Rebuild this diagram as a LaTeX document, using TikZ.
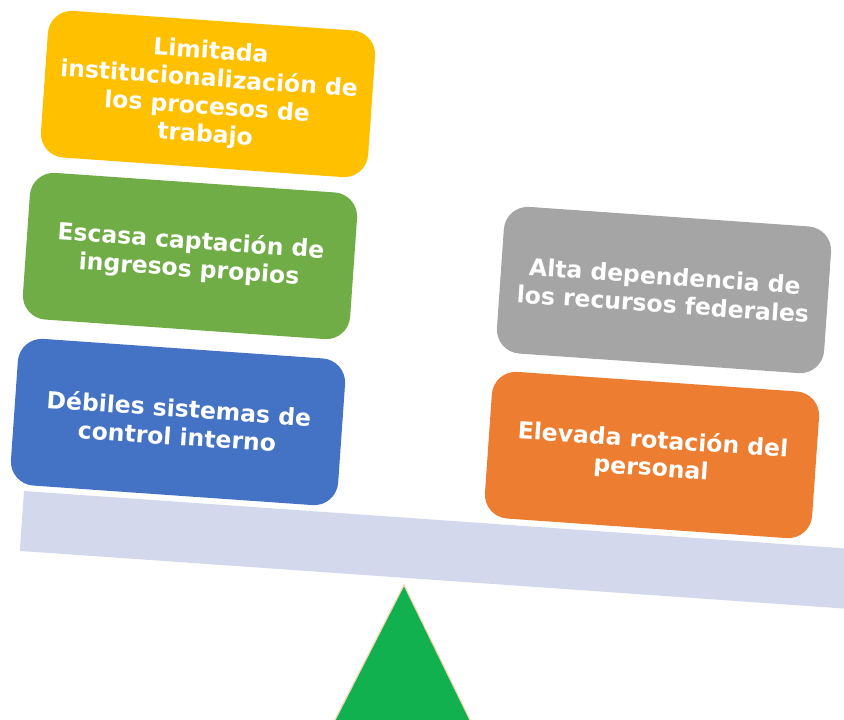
\documentclass[tikz,border=0pt]{standalone}
\usepackage{fontspec}
\setmainfont{DejaVu Sans}
\begin{document}
\begin{tikzpicture}[x=1pt,y=-1pt,
  card/.style={rounded corners=24pt, minimum width=328pt, minimum height=147pt,
    rotate=-4, inner sep=0pt, text=white, align=center,
    font=\fontsize{23.5}{28}\selectfont\bfseries},
]
\definecolor{cyellow}{HTML}{FFC000}
\definecolor{cgreen}{HTML}{70AD47}
\definecolor{cblue}{HTML}{4472C4}
\definecolor{cgray}{HTML}{A5A5A5}
\definecolor{corange}{HTML}{ED7D31}
\definecolor{cbeam}{HTML}{D3D8EC}
\definecolor{ctri}{HTML}{12B150}
\definecolor{cpeach}{HTML}{F8D5B5}
\useasboundingbox (0,0) rectangle (844,720);
\clip (0,0) rectangle (844,720);
% fulcrum
\coordinate (apex) at (404,585);
\coordinate (bl) at (334,722);
\coordinate (br) at (471,722);
\fill[ctri, draw=cpeach, line width=1.2pt] (apex) -- (br) -- (bl) -- cycle;
% beam
\coordinate (b1) at (24,491);
\coordinate (b2) at (862,549.6);
\coordinate (b3) at (857.8,609.5);
\coordinate (b4) at (19.8,550.9);
\fill[cbeam] (b1) -- (b2) -- (b3) -- (b4) -- cycle;
% boxes
\node[card, fill=cyellow] (y) at (208,94) {Limitada\\institucionalización de\\los procesos de\\trabajo};
\node[card, fill=cgreen] (g) at (190,256) {Escasa captación de\\ingresos propios};
\node[card, fill=cblue] (b) at (178,422) {Débiles sistemas de\\control interno};
\node[card, fill=cgray] (gr) at (664,290) {Alta dependencia de\\los recursos federales};
\node[card, fill=corange] (o) at (652,455) {Elevada rotación del\\personal};
\end{tikzpicture}
\end{document}
